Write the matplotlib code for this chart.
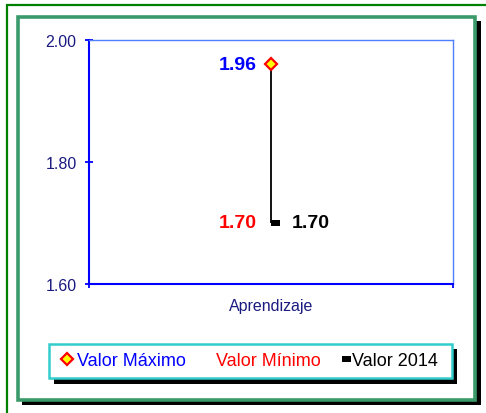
import matplotlib
matplotlib.use("Agg")
import matplotlib.pyplot as plt
import numpy as np
from matplotlib.patches import Rectangle
from matplotlib.path import Path

plt.rcParams['font.family'] = ['Liberation Sans', 'DejaVu Sans']

categories = ['Aprendizaje']
valor_maximo = [1.96]
valor_minimo = [1.70]
valor_2014 = [1.70]
y_ticks = [1.60, 1.80, 2.00]
legend_labels = ['Valor Máximo', 'Valor Mínimo', 'Valor 2014']

W, H = 486, 414
fig = plt.figure(figsize=(W / 100, H / 100), dpi=100, facecolor='white')

def px_rect(x0, y0, x1, y1, **kw):
    r = Rectangle((x0 / W, 1 - y1 / H), (x1 - x0) / W, (y1 - y0) / H,
                  transform=fig.transFigure, **kw)
    fig.add_artist(r)
    return r

# outer thin green frame (cut off at right/bottom)
px_rect(7, 6, 495, 425, fill=False, edgecolor='#008000', linewidth=1.6, zorder=-10)
# inner frame shadow + frame
px_rect(22, 22, 481, 406, facecolor='black', edgecolor='none', zorder=-9)
px_rect(17.5, 17.5, 475, 401, facecolor='white', edgecolor='#3a9a6c', linewidth=2.6, zorder=-8)
# legend box shadow + box
px_rect(54, 350, 457, 385, facecolor='black', edgecolor='none', zorder=-7)
px_rect(49, 345, 452, 379, facecolor='white', edgecolor='#33cccc', linewidth=1.8, zorder=-6)

ax = fig.add_axes([89 / W, 1 - 285 / H, (453 - 89) / W, (285 - 41) / H])
ax.set_facecolor('white')

x = np.arange(len(categories)) + 0.5

# vertical range line
ax.vlines(x, valor_minimo, valor_maximo, color='black', linewidth=1.3, zorder=2)

# close-style dash marker extending to the right
dash_path = Path([(0, -0.3), (1, -0.3), (1, 0.3), (0, 0.3), (0, -0.3)],
                 [Path.MOVETO, Path.LINETO, Path.LINETO, Path.LINETO, Path.CLOSEPOLY])
l2014, = ax.plot(x, valor_2014, linestyle='none', marker=dash_path, markersize=13,
                 color='black', markeredgewidth=0, zorder=3)
lmin, = ax.plot(x, valor_minimo, linestyle='none', marker='none', color='red', zorder=3)
lmax, = ax.plot(x, valor_maximo, linestyle='none', marker='D', markersize=6.5,
                markerfacecolor='#ffff00', markeredgecolor='#ff0000',
                markeredgewidth=1.6, zorder=4)

for xi, v in zip(x, valor_maximo):
    ax.annotate(f'{v:.2f}', (xi, v), xytext=(-10, 0), textcoords='offset points',
                ha='right', va='center', fontsize=14, fontweight='bold', color='#0000ff')
for xi, v in zip(x, valor_minimo):
    ax.annotate(f'{v:.2f}', (xi, v), xytext=(-10, 0), textcoords='offset points',
                ha='right', va='center', fontsize=14, fontweight='bold', color='#ff0000')
for xi, v in zip(x, valor_2014):
    ax.annotate(f'{v:.2f}', (xi, v), xytext=(15, 0), textcoords='offset points',
                ha='left', va='center', fontsize=14, fontweight='bold', color='black')

ax.set_ylim(y_ticks[0], y_ticks[-1])
ax.set_xlim(0, len(categories))
ax.set_yticks(y_ticks)
ax.set_yticklabels([f'{t:.2f}' for t in y_ticks])
ax.tick_params(axis='y', direction='inout', length=6, width=1.3, color='#0000ff',
               labelcolor='#1a1a80', labelsize=11.5, pad=6)

ax.set_xticks(np.arange(len(categories) + 1))
ax.set_xticklabels([])
ax.set_xticks(x, minor=True)
ax.set_xticklabels(categories, minor=True)
ax.tick_params(axis='x', which='major', direction='out', length=3, width=1.3, color='#0000ff')
ax.tick_params(axis='x', which='minor', length=0, pad=10, labelcolor='#1a1a80', labelsize=11.5)

ax.spines['left'].set_color('#0000ff')
ax.spines['left'].set_linewidth(1.5)
ax.spines['bottom'].set_color('#0000ff')
ax.spines['bottom'].set_linewidth(1.5)
ax.spines['top'].set_color('#4f7fff')
ax.spines['top'].set_linewidth(1.0)
ax.spines['right'].set_color('#4f7fff')
ax.spines['right'].set_linewidth(1.0)

leg = fig.legend([lmax, lmin, l2014], legend_labels, loc='center',
                 bbox_to_anchor=(248 / W, 1 - 361.5 / H), ncol=3, frameon=False,
                 fontsize=13, handlelength=0.9, handletextpad=0.1, columnspacing=0.7,
                 borderpad=0, borderaxespad=0)
for t, c in zip(leg.get_texts(), ['#0000ff', '#ff0000', 'black']):
    t.set_color(c)

fig.savefig('out.png', dpi=100, facecolor='white')
